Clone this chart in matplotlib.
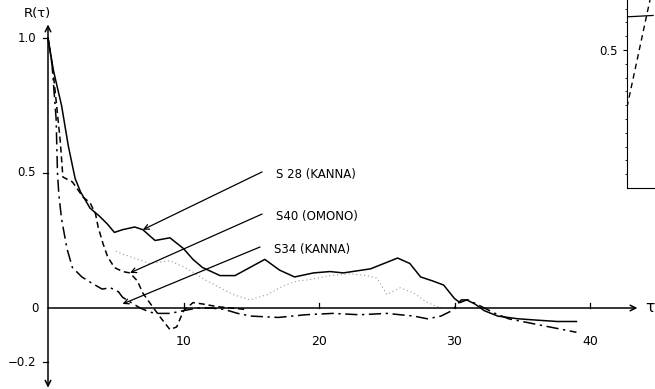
import numpy as np
import matplotlib
matplotlib.use("Agg")
import matplotlib.pyplot as plt

# S28 (KANNA) - solid
tau_s28 = [0, 0.4, 1.0, 1.5, 2.0, 2.4, 3.1, 3.8, 4.4, 4.9, 5.5, 6.4, 7.0, 7.9, 9.0,
           10.0, 10.7, 11.4, 12.7, 13.8, 14.9, 16.0, 17.1, 18.2, 19.6, 20.8, 21.8,
           23.8, 25.8, 26.7, 27.5, 28.4, 29.2, 30.0, 30.4, 30.9, 31.5, 32.2, 33.2,
           34.7, 36.1, 37.6, 39.0]
r_s28 = [1.0, 0.88, 0.75, 0.6, 0.48, 0.43, 0.37, 0.34, 0.31, 0.28, 0.29, 0.30, 0.29,
         0.25, 0.26, 0.22, 0.18, 0.15, 0.12, 0.12, 0.15, 0.18, 0.14, 0.115, 0.13,
         0.135, 0.13, 0.145, 0.185, 0.165, 0.115, 0.10, 0.085, 0.035, 0.02, 0.03,
         0.015, -0.01, -0.03, -0.04, -0.045, -0.05, -0.05]

# S40 (OMONO) - short dashes
tau_s40 = [0, 0.37, 0.9, 1.1, 1.8, 2.6, 3.1, 3.5, 3.7, 4.05, 4.4, 4.9, 5.5, 6.05, 6.6,
           7.0, 7.5, 8.3, 9.0, 9.5, 10.0, 10.7, 11.4, 12.5, 13.5, 14.5]
r_s40 = [1.0, 0.88, 0.62, 0.485, 0.467, 0.41, 0.39, 0.35, 0.30, 0.24, 0.19, 0.15,
         0.135, 0.13, 0.10, 0.055, 0.02, -0.035, -0.08, -0.07, -0.01, 0.02, 0.015,
         0.005, 0.0, -0.005]

# S34 (KANNA) - long dash / dash-dot
tau_s34 = [0, 0.3, 0.6, 0.7, 0.8, 1.0, 1.4, 1.8, 2.5, 3.3, 4.0, 4.6, 5.2, 5.5, 6.3,
           6.8, 7.5, 8.0, 9.0, 10.0, 11.0, 12.0, 13.0, 14.0, 15.0, 17.0, 19.0, 21.0,
           23.0, 25.0, 27.0, 28.0, 29.0, 29.8, 30.5, 31.0, 32.0, 33.0, 34.0, 35.0,
           37.0, 39.0]
r_s34 = [1.0, 0.9, 0.7, 0.5, 0.42, 0.33, 0.22, 0.15, 0.115, 0.09, 0.07, 0.075, 0.06,
         0.04, 0.015, 0.0, -0.015, -0.02, -0.02, -0.01, 0.0, 0.0, -0.005, -0.02,
         -0.03, -0.035, -0.025, -0.02, -0.025, -0.02, -0.03, -0.04, -0.03, -0.01,
         0.03, 0.03, 0.005, -0.02, -0.04, -0.05, -0.07, -0.09]

# faint dotted curve
tau_dot = [5.0, 5.5, 7.5, 9.0, 10.3, 11.4, 12.7, 13.65, 14.9, 16.2, 17.3, 18.4, 19.3,
           20.8, 22.3, 23.5, 24.3, 25.0, 26.0, 27.0, 28.0, 29.0]
r_dot = [0.21, 0.2, 0.165, 0.175, 0.145, 0.11, 0.075, 0.05, 0.03, 0.05, 0.08, 0.10,
         0.105, 0.12, 0.127, 0.12, 0.11, 0.05, 0.075, 0.055, 0.02, 0.0]

labels = ["S 28 (KANNA)", "S40 (OMONO)", "S34 (KANNA)"]
label_pos = [(15.8, 0.504), (15.8, 0.348), (15.65, 0.226)]
arrow_tips = [(7.0, 0.29), (6.05, 0.13), (5.5, 0.015)]

xticks = [10, 20, 30, 40]
yticks = [1.0, 0.5, 0, -0.2]
ytick_labels = ["1.0", "0.5", "0", "\u22120.2"]

# inset (partly cut off at the right edge)
inset_dash_x = [0.0, 0.82]
inset_dash_y = [0.293, 0.681]
inset_hline_x = [0.0, 0.93]
inset_hline_y = [0.62, 0.625]

fig = plt.figure(figsize=(6.55, 3.89), dpi=100)
fig.patch.set_facecolor('white')
ax = fig.add_axes([0, 0, 1, 1])
ax.set_xlim(-48 / 13.55, (655 - 48) / 13.55)
ax.set_ylim((308 - 389) / 270, 308 / 270)
ax.axis('off')

# axes with arrows
ax.annotate('', xy=(43.5, 0), xytext=(0, 0),
            arrowprops=dict(arrowstyle='->', lw=1.1, color='black', shrinkA=0, shrinkB=0))
ax.annotate('', xy=(0, 1.05), xytext=(0, -0.295),
            arrowprops=dict(arrowstyle='<->', lw=1.1, color='black', shrinkA=0, shrinkB=0))
ax.text(44.1, 0, "\u03c4", fontsize=11, ha='left', va='center')
ax.text(-0.75, 1.09, "R(\u03c4)", fontsize=9.5, ha='center', va='center')

for t in xticks:
    ax.plot([t, t], [0, 0.018], color='black', lw=0.9)
    ax.text(t, -0.125, str(t), fontsize=9, ha='center', va='center')
for v, lab in zip(yticks, ytick_labels):
    if v != 0:
        ax.plot([-0.35, 0], [v, v], color='black', lw=0.9)
    ax.text(-0.9 if v != 0 else -0.7, v, lab, fontsize=8.5, ha='right', va='center')

# curves
ax.plot(tau_s28, r_s28, color='black', lw=1.1)
ax.plot(tau_s40, r_s40, color='black', lw=1.1, linestyle=(0, (4, 2.5)))
ax.plot(tau_s34, r_s34, color='black', lw=1.1, linestyle=(0, (8, 3, 1.5, 3)))
ax.plot(tau_dot, r_dot, color='#9a9a9a', lw=0.8, linestyle=(0, (1, 2.5)))

# labels with pointer lines
for lab, (lx, ly), (tx, ty) in zip(labels, label_pos, arrow_tips):
    ax.annotate('', xy=(tx, ty), xytext=(lx, ly),
                arrowprops=dict(arrowstyle='->', lw=0.9, color='black',
                                shrinkA=0, shrinkB=0, mutation_scale=9))
    ax.text(lx + 1.0, ly - 0.01, lab, fontsize=8.5, ha='left', va='center')

# inset axes at top right
inset = fig.add_axes([627 / 655, (389 - 188) / 389, 40 / 655, 188 / 389])
inset.set_xlim(0, 40 / 28)
inset.set_ylim(0, 0.681)
inset.spines['top'].set_visible(False)
inset.spines['right'].set_visible(False)
inset.set_xticks([])
inset.set_yticks([0.5])
inset.set_yticklabels(["0.5"], fontsize=8.5)
inset.set_yticks(np.arange(0.05, 0.66, 0.05), minor=True)
inset.tick_params(axis='y', which='major', length=3, direction='out')
inset.tick_params(axis='y', which='minor', length=1.5, direction='out')
inset.plot(inset_dash_x, inset_dash_y, color='black', lw=1.0, linestyle=(0, (4, 3)))
inset.plot(inset_hline_x, inset_hline_y, color='black', lw=0.9)
inset.patch.set_alpha(0)

fig.savefig("out.png", dpi=100)
